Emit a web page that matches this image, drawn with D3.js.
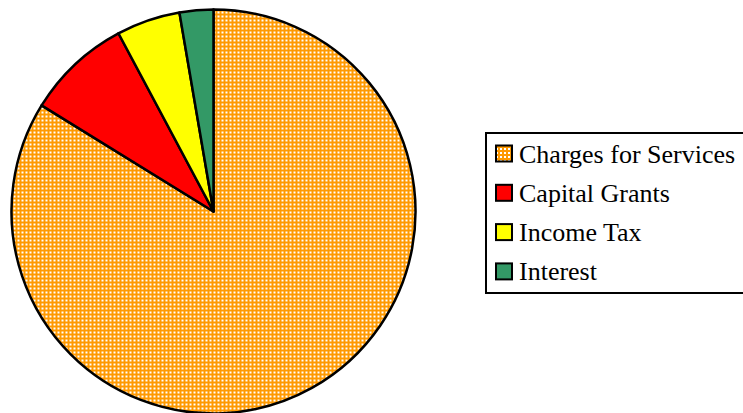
<!DOCTYPE html>
<html>
<head>
<meta charset="utf-8">
<script src="https://cdn.jsdelivr.net/npm/d3@7"></script>
</head>
<body style="margin:0;overflow:hidden;font-family:'Liberation Serif',serif">
<script>
const categories = ["Charges for Services", "Capital Grants", "Income Tax", "Interest"];
const values = [83.8, 8.4, 5.1, 2.7];
const colors = ["url(#checker)", "#FF0000", "#FFFF00", "#339966"];

const W = 743, H = 413;
const svg = d3.select("body").append("svg").attr("width", W).attr("height", H)
  .attr("font-family", "Liberation Serif").style("display", "block");

const defs = svg.append("defs");
const pat = defs.append("pattern").attr("id", "checker")
  .attr("patternUnits", "userSpaceOnUse").attr("width", 4).attr("height", 4);
pat.append("rect").attr("width", 4).attr("height", 4).attr("fill", "#FF9900");
pat.append("rect").attr("x", 0).attr("y", 0).attr("width", 2).attr("height", 2).attr("fill", "#FFFFFF");

const cx = 213.5, cy = 211.5, r = 202;
const data = categories.map((c, i) => ({ name: c, value: values[i], color: colors[i] }));
const pie = d3.pie().value(d => d.value).sort(null);
const arc = d3.arc().innerRadius(0).outerRadius(r);

const g = svg.append("g").attr("transform", `translate(${cx},${cy})`);
g.selectAll("path").data(pie(data)).join("path")
  .attr("d", arc)
  .attr("fill", d => d.data.color)
  .attr("stroke", "#000")
  .attr("stroke-width", 2.5)
  .attr("stroke-linejoin", "round");

// Legend
const lx = 486, ly = 133, lw = 262, lh = 160;
svg.append("rect").attr("x", lx).attr("y", ly).attr("width", lw).attr("height", lh)
  .attr("fill", "#fff").attr("stroke", "#000").attr("stroke-width", 2);

const y0 = 162.5, step = 39.3;
svg.selectAll("rect.sw").data(data).join("rect").attr("class", "sw")
  .attr("x", 496).attr("y", (d, i) => y0 + i * step - 17).attr("width", 16).attr("height", 16)
  .attr("fill", d => d.color).attr("stroke", "#000").attr("stroke-width", 2);
svg.selectAll("text.lab").data(data).join("text").attr("class", "lab")
  .attr("x", 519).attr("y", (d, i) => y0 + i * step)
  .attr("font-family", "Liberation Serif")
  .attr("font-size", 26).attr("fill", "#000")
  .text(d => d.name);
</script>
</body>
</html>
